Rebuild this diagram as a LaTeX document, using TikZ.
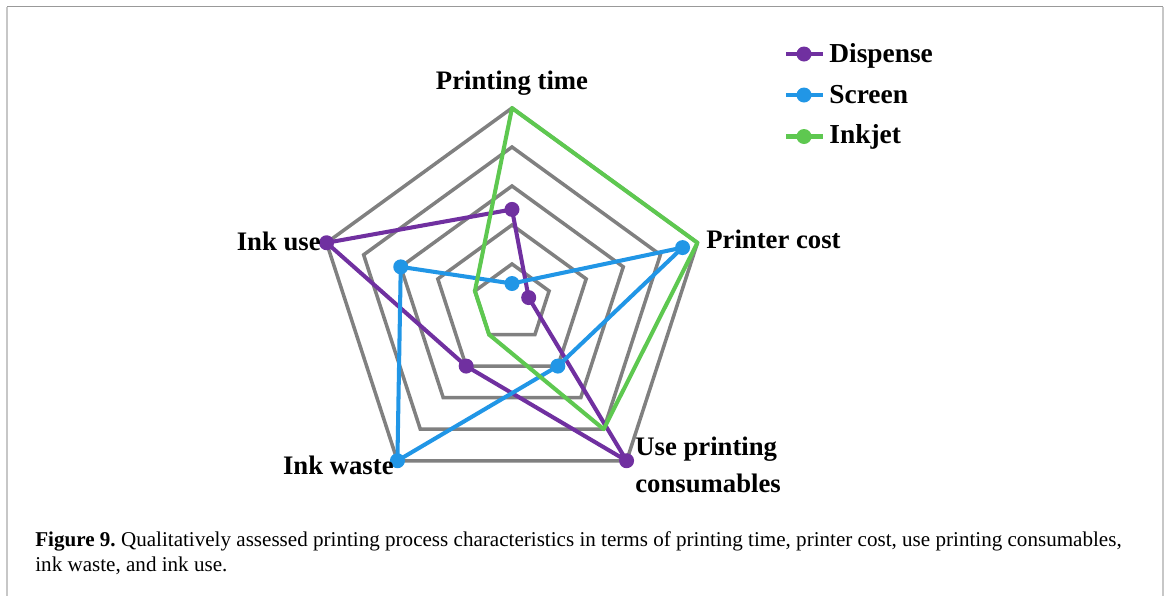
\documentclass[tikz,border=0pt]{standalone}
\usepackage{fontspec}
\setmainfont{Liberation Serif}
\frenchspacing
\definecolor{dispense}{RGB}{112,48,160}
\definecolor{screen}{RGB}{33,150,230}
\definecolor{inkjet}{RGB}{94,200,80}
\definecolor{ringgray}{RGB}{128,128,128}
\begin{document}
\begin{tikzpicture}[x=0.02cm,y=0.02cm]
            \tikzstyle{ring}=[ringgray,line width=2pt,line join=miter]
            \tikzstyle{series}=[line width=2.3pt,line join=round]
            \tikzstyle{dot}=[circle,inner sep=0pt,minimum size=0.3cm]
            \tikzstyle{axislabel}=[inner sep=0pt,font=\fontsize{15.2}{21}\selectfont\bfseries]
            \tikzstyle{keylabel}=[inner sep=0pt,font=\fontsize{15.6}{21}\selectfont\bfseries]
            \useasboundingbox (0,0) rectangle (1170,-596);
            % frame of the figure
            \draw[black!40,line width=1.1pt] (7,-6.5) -- (1163,-6.5);
            \draw[black!22,line width=1.1pt] (7,-6.5) -- (7,-596);
            \draw[black!22,line width=1.1pt] (1163,-6.5) -- (1163,-596);
            \begin{scope}[shift={(512,-303)},scale=39]
                % rings of the radar
                \foreach \r in {1,...,5}
                    \draw[ring] (90:\r) -- (18:\r) -- (-54:\r) -- (-126:\r) -- (162:\r) -- cycle;
                % dispense
                \coordinate (dis1) at (90:2.4);
                \coordinate (dis2) at (18:0.45);
                \coordinate (dis3) at (-54:5);
                \coordinate (dis4) at (-126:2);
                \coordinate (dis5) at (162:5);
                \draw[series,dispense] (dis1) -- (dis2) -- (dis3) -- (dis4) -- (dis5) -- cycle;
                \node[dot,fill=dispense] (mdis1) at (dis1) {};
                \node[dot,fill=dispense] (mdis2) at (dis2) {};
                \node[dot,fill=dispense] (mdis3) at (dis3) {};
                \node[dot,fill=dispense] (mdis4) at (dis4) {};
                \node[dot,fill=dispense] (mdis5) at (dis5) {};
                % screen
                \coordinate (scr1) at (90:0.5);
                \coordinate (scr2) at (18:4.6);
                \coordinate (scr3) at (-54:2);
                \coordinate (scr4) at (-126:5);
                \coordinate (scr5) at (162:3);
                \draw[series,screen] (scr1) -- (scr2) -- (scr3) -- (scr4) -- (scr5) -- cycle;
                \node[dot,fill=screen] (mscr1) at (scr1) {};
                \node[dot,fill=screen] (mscr2) at (scr2) {};
                \node[dot,fill=screen] (mscr3) at (scr3) {};
                \node[dot,fill=screen] (mscr4) at (scr4) {};
                \node[dot,fill=screen] (mscr5) at (scr5) {};
                % inkjet
                \coordinate (ink1) at (90:5);
                \coordinate (ink2) at (18:5);
                \coordinate (ink3) at (-54:4);
                \coordinate (ink4) at (-126:1);
                \coordinate (ink5) at (162:1);
                \draw[series,inkjet] (ink1) -- (ink2) -- (ink3) -- (ink4) -- (ink5) -- cycle;
            \end{scope}
            % axis labels
            \node[axislabel,anchor=base] (time) at (512,-89) {Printing time};
            \node[axislabel,anchor=base west] (cost) at (706,-248) {Printer cost};
            \node[axislabel,anchor=base west,align=left] (cons) at (635,-492) {Use printing\\consumables};
            \node[axislabel,anchor=base east] (waste) at (394,-474) {Ink waste};
            \node[axislabel,anchor=base east] (use) at (321,-250) {Ink use};
            % legend
            \draw[series,dispense] (786,-54) -- (823,-54);
            \node[dot,fill=dispense] (kdis) at (804,-54) {};
            \node[keylabel,anchor=base west] (ldis) at (829,-62.5) {Dispense};
            \draw[series,screen] (786,-95) -- (823,-95);
            \node[dot,fill=screen] (kscr) at (804,-95) {};
            \node[keylabel,anchor=base west] (lscr) at (829,-103) {Screen};
            \draw[series,inkjet] (786,-136.5) -- (823,-136.5);
            \node[dot,fill=inkjet] (kink) at (804,-136.5) {};
            \node[keylabel,anchor=base west] (link) at (829,-143.5) {Inkjet};
            % caption
            \node[anchor=base west,align=left,inner sep=0pt,font=\fontsize{12}{14.2}\selectfont] (caption) at (35,-571)
                {\textbf{Figure 9.} Qualitatively assessed printing process characteristics in terms of printing time, printer cost, use printing consumables,\\ink waste, and ink use.};
        \end{tikzpicture}
\end{document}
